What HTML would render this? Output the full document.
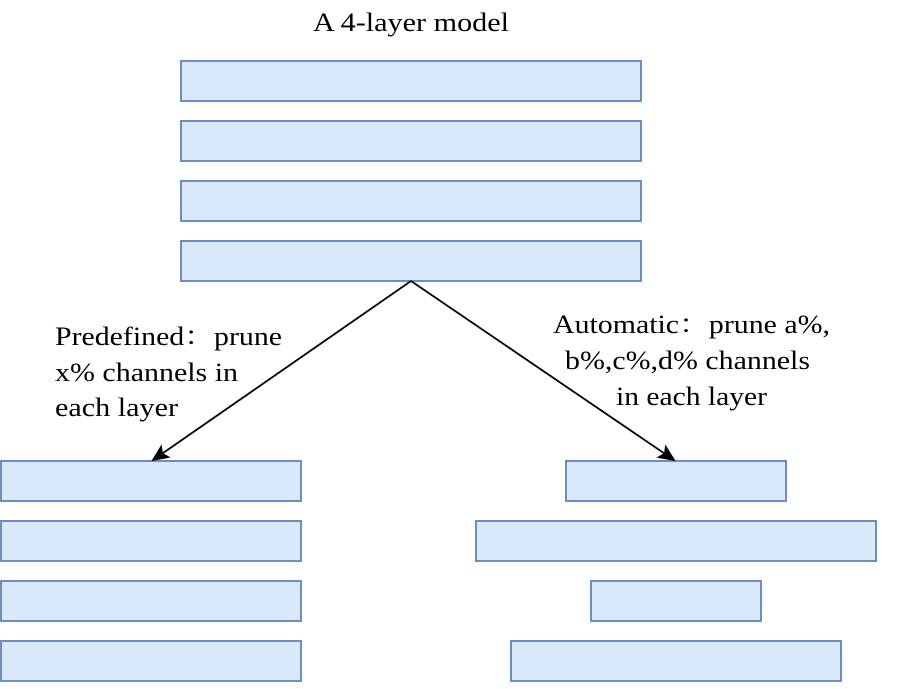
<!DOCTYPE html>
<html><head><style>
body{margin:0;background:#fff;width:922px;height:684px;overflow:hidden}
svg text{font-family:"Liberation Serif","Noto Serif CJK SC",serif;font-size:26px;fill:#000}
</style></head><body>
<svg width="922" height="684" xmlns="http://www.w3.org/2000/svg">
<defs><marker id="a" markerWidth="18" markerHeight="16" refX="16" refY="8" orient="auto" markerUnits="userSpaceOnUse"><path d="M0,0 L18,8 L0,16 L4,8 Z" fill="#000"/></marker></defs>
<g fill="#dae8fc" stroke="#6c8ebf" stroke-width="2">
<rect x="181" y="61" width="460" height="40"/>
<rect x="181" y="121" width="460" height="40"/>
<rect x="181" y="181" width="460" height="40"/>
<rect x="181" y="241" width="460" height="40"/>
<rect x="1" y="461" width="300" height="40"/>
<rect x="1" y="521" width="300" height="40"/>
<rect x="1" y="581" width="300" height="40"/>
<rect x="1" y="641" width="300" height="40"/>
<rect x="566" y="461" width="220" height="40"/>
<rect x="476" y="521" width="400" height="40"/>
<rect x="591" y="581" width="170" height="40"/>
<rect x="511" y="641" width="330" height="40"/>
</g>
<g stroke="#000" stroke-width="1.8" fill="none">
<line x1="411" y1="281" x2="153" y2="460" marker-end="url(#a)"/>
<line x1="411" y1="281" x2="674" y2="460" marker-end="url(#a)"/>
</g>
<text x="313" y="31" textLength="196" lengthAdjust="spacingAndGlyphs">A 4-layer model</text>
<text x="55" y="345" textLength="227" lengthAdjust="spacingAndGlyphs">Predefined：prune</text>
<text x="55" y="381" textLength="183" lengthAdjust="spacingAndGlyphs">x% channels in</text>
<text x="55" y="416" textLength="123" lengthAdjust="spacingAndGlyphs">each layer</text>
<text x="553" y="333" textLength="277" lengthAdjust="spacingAndGlyphs">Automatic：prune a%,</text>
<text x="565" y="369" textLength="245" lengthAdjust="spacingAndGlyphs">b%,c%,d% channels</text>
<text x="616" y="405" textLength="151" lengthAdjust="spacingAndGlyphs">in each layer</text>
</svg>
</body></html>
